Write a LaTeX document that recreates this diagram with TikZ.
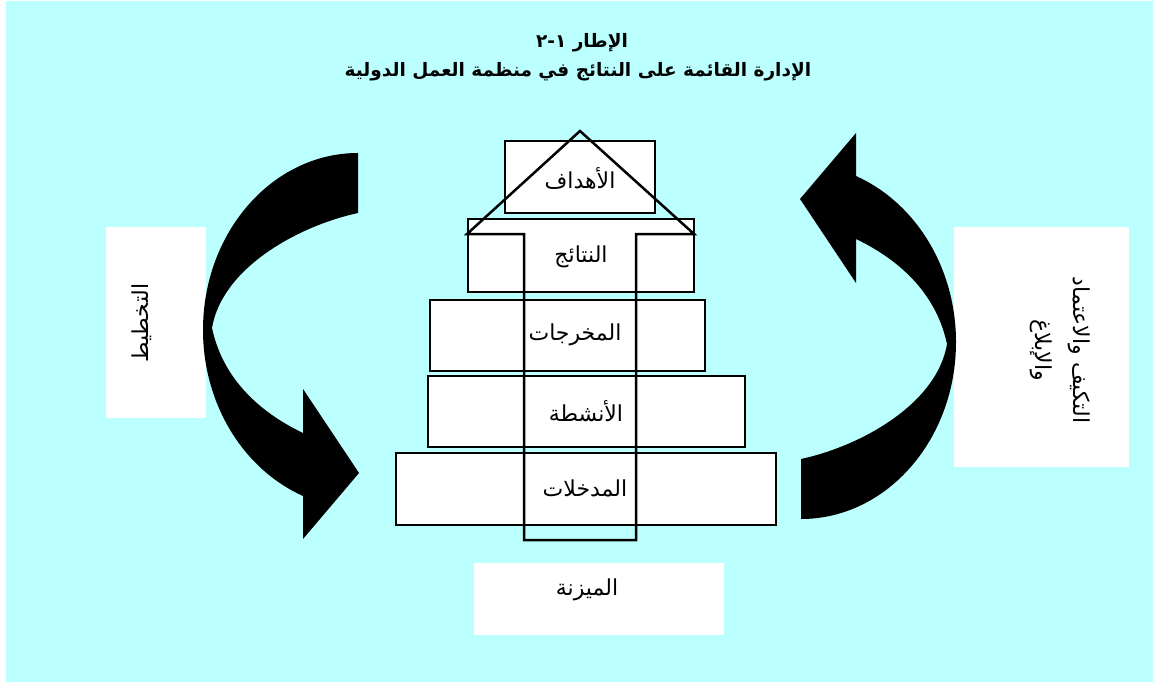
\documentclass[tikz,border=0pt]{standalone}
\usepackage{fontspec}
\TeXXeTstate=1
\newfontfamily\arabicfont[Script=Arabic]{DejaVu Sans}
\definecolor{bgcyan}{RGB}{188,255,255}
\begin{document}
\begin{tikzpicture}[x=1pt,y=-1pt,
  box/.style={draw=black, line width=2.5pt, fill=white, inner sep=0pt},
  plainbox/.style={fill=white, inner sep=0pt},
  lbl/.style={font=\arabicfont\fontsize{22}{38}\selectfont, inner sep=0pt},
  ttl/.style={font=\arabicfont\bfseries\fontsize{18.5}{22}\selectfont, inner sep=0pt},
  bigarrow/.pic={
    \fill[black] (358,153) .. controls (272.4,153) and (203,232.3) .. (203,330)
      .. controls (203,403.3) and (242.6,468.8) .. (303,496)
      -- (303,539) -- (359,473) -- (303,389) -- (303,433)
      .. controls (255,410) and (222,375) .. (212,328)
      .. controls (222,268) and (298,226) .. (358,213) -- cycle;
  }]
\useasboundingbox (0,0) rectangle (1153,682);
\fill[white] (0,0) rectangle (1153,682);
\fill[bgcyan] (6,1) rectangle (1153,682);

% title
\node[ttl] (t1) at (582,43) {\beginR الإطار ١-٢\endR};
\node[ttl] (t2) at (578,72) {\beginR الإدارة القائمة على النتائج في منظمة العمل الدولية\endR};

% side white panels
\node[plainbox, minimum width=100pt, minimum height=191pt] (leftpanel) at (156,322.5) {};
\node[plainbox, minimum width=175pt, minimum height=240pt] (rightpanel) at (1041.5,347) {};
\node[lbl, rotate=90] (plan) at (142,323) {\beginR التخطيط\endR};
\node[lbl, rotate=-90, align=center] (adapt) at (1060,350) {\beginR التكيف والاعتماد\endR\\\beginR والإبلاغ\endR};

% budget panel
\node[plainbox, minimum width=250pt, minimum height=72pt] (budgetbox) at (599,599) {};
\node[lbl] (budget) at (587,590) {\beginR الميزنة\endR};

% pyramid boxes
\node[box, minimum width=150pt, minimum height=72pt] (goals) at (580,177) {};
\node[box, minimum width=226pt, minimum height=73pt] (results) at (581,255.5) {};
\node[box, minimum width=275pt, minimum height=71pt] (outputs) at (567.5,335.5) {};
\node[box, minimum width=317pt, minimum height=71pt] (activities) at (586.5,411.5) {};
\node[box, minimum width=380pt, minimum height=72pt] (inputs) at (586,489) {};

% triangle and budget column
\draw[line width=2.5pt, line join=miter] (524,234) -- (467,234) -- (580,131) -- (694,234)
  -- (636,234) -- (636,540) -- (524,540) -- cycle;

% labels
\node[lbl] (goalsl) at (580,178) {\beginR الأهداف\endR};
\node[lbl] (resultsl) at (581,257) {\beginR النتائج\endR};
\node[lbl] (outputsl) at (575,335) {\beginR المخرجات\endR};
\node[lbl] (activitiesl) at (586,411) {\beginR الأنشطة\endR};
\node[lbl] (inputsl) at (585,488) {\beginR المدخلات\endR};

% curved arrows
\pic (larrow) at (0,0) {bigarrow};
\pic[rotate=180] (rarrow) at (1159,672) {bigarrow};
\end{tikzpicture}
\end{document}
